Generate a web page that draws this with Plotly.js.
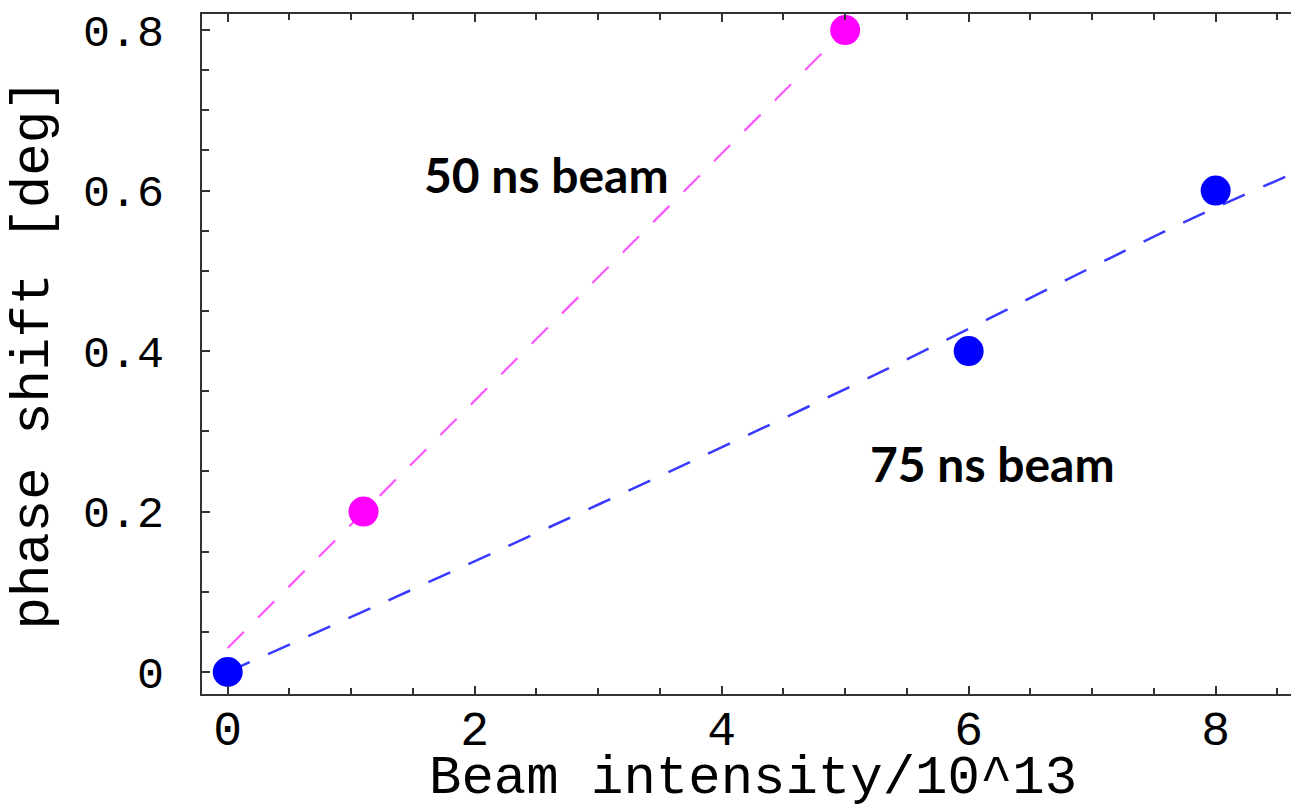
<!DOCTYPE html>
<html>
<head>
<meta charset="utf-8">
<script src="https://cdn.plot.ly/plotly-3.0.1.min.js"></script>
<style>html,body{margin:0;padding:0;background:#fff;}#chart{width:1291px;height:811px;}</style>
</head>
<body>
<div id="chart"></div>
<script>
// 50 ns beam measurements
const x50 = [1.1, 5.0];
const y50 = [0.2, 0.8];
// 50 ns fit line
const fit50X = [0.0, 5.0];
const fit50Y = [0.03, 0.8];
// 75 ns beam measurements
const x75 = [0, 6, 8];
const y75 = [0, 0.4, 0.6];
// 75 ns fit curve
const fit75X = [0.0, 1.31, 3.02, 5.29, 7.75, 8.61];
const fit75Y = [0.0, 0.09, 0.21, 0.374, 0.561, 0.62];

const xTicks = [0, 2, 4, 6, 8];
const yTicks = [0, 0.2, 0.4, 0.6, 0.8];
const yTickText = ['0', '0.2', '0.4', '0.6', '0.8'];

const xTitle = 'Beam intensity/10^13';
const yTitle = 'phase shift [deg]';

const labels = [
  {text: '50 ns beam', x: 2.58, y: 0.62},
  {text: '75 ns beam', x: 6.19, y: 0.26}
];

const mono = 'Liberation Mono, Courier New, monospace';

const traces = [
  {x: fit50X, y: fit50Y, mode: 'lines', line: {color: '#ff55ff', width: 2.2, dash: '23px,20px'}, hoverinfo: 'skip'},
  {x: fit75X, y: fit75Y, mode: 'lines', line: {color: '#3a3aff', width: 2.5, dash: '24px,20px', shape: 'spline'}, hoverinfo: 'skip'},
  {x: x50, y: y50, mode: 'markers', marker: {color: '#ff00ff', size: 30}},
  {x: x75, y: y75, mode: 'markers', marker: {color: '#0000ff', size: 30}}
];

const annotations = labels.map(l => ({
  text: l.text, x: l.x, y: l.y, xref: 'x', yref: 'y', showarrow: false,
  xanchor: 'center', yanchor: 'middle',
  font: {family: 'Lato, Open Sans, sans-serif', size: 48, color: '#000', weight: 'bold'}
}));
annotations.push({
  text: xTitle, xref: 'paper', yref: 'paper', x: 0.506, y: -0.172,
  xanchor: 'center', yanchor: 'bottom', showarrow: false,
  font: {family: mono, size: 54, color: '#000'}
});

const layout = {
  width: 1291, height: 811,
  margin: {l: 202, r: 0, t: 14, b: 117},
  paper_bgcolor: '#fff', plot_bgcolor: '#fff',
  showlegend: false,
  xaxis: {
    range: [-0.208, 8.61],
    tickvals: xTicks, ticktext: xTicks.map(String),
    ticks: 'inside', ticklen: 8, tickwidth: 2, tickcolor: '#333',
    minor: {dtick: 0.5, ticks: 'inside', ticklen: 6, tickwidth: 2, tickcolor: '#333', showgrid: false},
    showline: true, linecolor: '#333', linewidth: 2, mirror: 'ticks',
    showgrid: false, zeroline: false,
    tickfont: {family: mono, size: 48, color: '#000'},
    ticklabelstandoff: -9
  },
  yaxis: {
    range: [-0.0274, 0.82],
    tickvals: yTicks, ticktext: yTickText,
    ticks: 'inside', ticklen: 8, tickwidth: 2, tickcolor: '#333',
    minor: {dtick: 0.05, ticks: 'inside', ticklen: 7, tickwidth: 2, tickcolor: '#333', showgrid: false},
    showline: true, linecolor: '#333', linewidth: 2, mirror: false,
    showgrid: false, zeroline: false,
    tickfont: {family: mono, size: 45, color: '#000'},
    ticklabelstandoff: 27,
    title: {text: yTitle, font: {family: mono, size: 54, color: '#000'}, standoff: 17}
  },
  annotations: annotations
};

Plotly.newPlot('chart', traces, layout, {displayModeBar: false, staticPlot: true});
</script>
</body>
</html>
